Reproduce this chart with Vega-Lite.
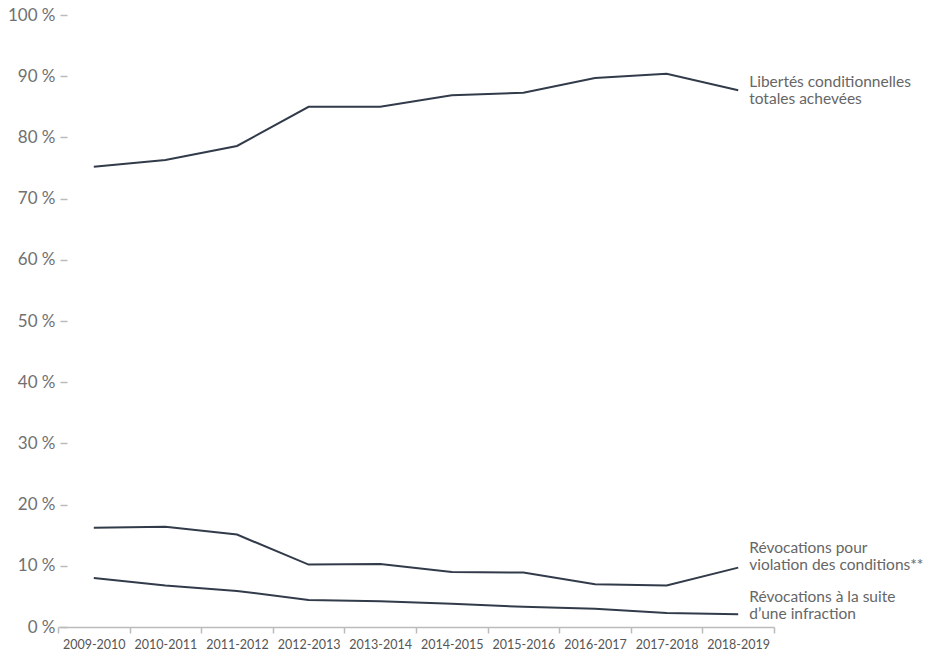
{
  "$schema": "https://vega.github.io/schema/vega-lite/v6.json",
  "autosize": "none",
  "padding": {"left": 58, "top": 15, "right": 169, "bottom": 35},
  "width": 716,
  "height": 612,
  "background": "white",
  "config": {
    "view": {"stroke": null},
    "font": "Lato"
  },
  "data": {
    "values": [
      {"year": "2009-2010", "series": "Libertés", "value": 75.2},
      {"year": "2010-2011", "series": "Libertés", "value": 76.3},
      {"year": "2011-2012", "series": "Libertés", "value": 78.6},
      {"year": "2012-2013", "series": "Libertés", "value": 85.0},
      {"year": "2013-2014", "series": "Libertés", "value": 85.0},
      {"year": "2014-2015", "series": "Libertés", "value": 86.9},
      {"year": "2015-2016", "series": "Libertés", "value": 87.3},
      {"year": "2016-2017", "series": "Libertés", "value": 89.7},
      {"year": "2017-2018", "series": "Libertés", "value": 90.4},
      {"year": "2018-2019", "series": "Libertés", "value": 87.7},
      {"year": "2009-2010", "series": "Violation", "value": 16.2},
      {"year": "2010-2011", "series": "Violation", "value": 16.4},
      {"year": "2011-2012", "series": "Violation", "value": 15.1},
      {"year": "2012-2013", "series": "Violation", "value": 10.2},
      {"year": "2013-2014", "series": "Violation", "value": 10.3},
      {"year": "2014-2015", "series": "Violation", "value": 9.0},
      {"year": "2015-2016", "series": "Violation", "value": 8.9},
      {"year": "2016-2017", "series": "Violation", "value": 7.0},
      {"year": "2017-2018", "series": "Violation", "value": 6.8},
      {"year": "2018-2019", "series": "Violation", "value": 9.7},
      {"year": "2009-2010", "series": "Infraction", "value": 8.0},
      {"year": "2010-2011", "series": "Infraction", "value": 6.8},
      {"year": "2011-2012", "series": "Infraction", "value": 5.9},
      {"year": "2012-2013", "series": "Infraction", "value": 4.4},
      {"year": "2013-2014", "series": "Infraction", "value": 4.2},
      {"year": "2014-2015", "series": "Infraction", "value": 3.8},
      {"year": "2015-2016", "series": "Infraction", "value": 3.3},
      {"year": "2016-2017", "series": "Infraction", "value": 3.0},
      {"year": "2017-2018", "series": "Infraction", "value": 2.3},
      {"year": "2018-2019", "series": "Infraction", "value": 2.1}
    ]
  },
  "encoding": {
    "x": {
      "field": "year", "type": "ordinal", "title": null,
      "scale": {"type": "band", "paddingInner": 0, "paddingOuter": 0},
      "axis": {
        "labelAngle": 0, "labelFont": "Lato", "labelFontSize": 12.5,
        "labelColor": "#555555", "domainColor": "#bbbbbb", "domainWidth": 1.5,
        "tickColor": "#bbbbbb", "tickWidth": 1.5, "tickSize": 6, "tickBand": "extent",
        "labelPadding": 5, "grid": false
      }
    },
    "y": {
      "field": "value", "type": "quantitative", "title": null,
      "scale": {"domain": [0, 100], "nice": false},
      "axis": {
        "values": [0, 10, 20, 30, 40, 50, 60, 70, 80, 90, 100],
        "labelExpr": "datum.value + ' %'",
        "domain": false, "grid": false, "offset": -9,
        "tickColor": "#bbbbbb", "tickSize": 7, "tickWidth": 1.5,
        "labelFontSize": 17, "labelColor": "#707070", "labelPadding": 5
      }
    }
  },
  "layer": [
    {
      "mark": {"type": "line", "color": "#323b4a", "strokeWidth": 2},
      "encoding": {"detail": {"field": "series"}}
    },
    {
      "transform": [{"filter": "datum.series == 'Libertés' && datum.year == '2018-2019'"}],
      "mark": {"type": "text", "align": "left", "baseline": "middle", "dx": 11, "dy": -8, "fontSize": 15.5, "color": "#666666", "lineHeight": 17,
        "text": ["Libertés conditionnelles", "totales achevées"]}
    },
    {
      "transform": [{"filter": "datum.series == 'Violation' && datum.year == '2018-2019'"}],
      "mark": {"type": "text", "align": "left", "baseline": "middle", "dx": 11, "dy": -20, "fontSize": 15.5, "color": "#666666", "lineHeight": 17,
        "text": ["Révocations pour", "violation des conditions**"]}
    },
    {
      "transform": [{"filter": "datum.series == 'Infraction' && datum.year == '2018-2019'"}],
      "mark": {"type": "text", "align": "left", "baseline": "middle", "dx": 11, "dy": -17, "fontSize": 15.5, "color": "#666666", "lineHeight": 17,
        "text": ["Révocations à la suite", "d’une infraction"]}
    }
  ]
}
